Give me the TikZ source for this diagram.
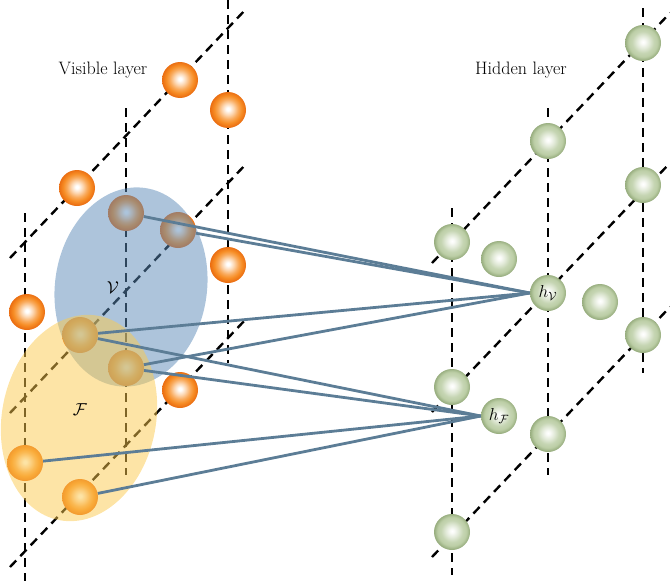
\documentclass[tikz,border=0pt]{standalone}
\usetikzlibrary{shapes.geometric}

\definecolor{orgmid}{RGB}{247,142,38}
\definecolor{orgedge}{RGB}{234,108,16}
\definecolor{grnmid}{RGB}{188,206,166}
\definecolor{grnedge}{RGB}{150,172,125}
\definecolor{vsetcol}{RGB}{91,138,184}
\definecolor{fsetcol}{RGB}{252,201,77}
\definecolor{linkcol}{RGB}{92,125,150}

\pgfdeclareradialshading{orangeball}{\pgfpoint{0bp}{1.5bp}}{color(0bp)=(white); color(2bp)=(white); color(8bp)=(orgmid!35!white); color(14bp)=(orgmid!75!white); color(19bp)=(orgmid); color(25bp)=(orgedge); color(50bp)=(orgedge)}
\pgfdeclareradialshading{greenball}{\pgfpoint{0bp}{1.5bp}}{color(0bp)=(white); color(3bp)=(grnmid!10!white); color(9bp)=(grnmid!45!white); color(15bp)=(grnmid!85!white); color(20bp)=(grnmid); color(25bp)=(grnedge); color(50bp)=(grnedge)}

\begin{document}
\begin{tikzpicture}[
  x=1pt, y=-1pt,
  grid/.style={dash pattern=on 9pt off 6pt, line width=2.4pt},
  vball/.style={circle, minimum size=36pt, inner sep=0pt, shade, shading=orangeball},
  hball/.style={circle, minimum size=36pt, inner sep=0pt, shade, shading=greenball},
  region/.style={ellipse, inner sep=0pt, fill opacity=0.5},
  link/.style={draw=linkcol, line width=2.8pt},
  font=\fontsize{18}{21}\selectfont
]
\useasboundingbox (0,0) rectangle (670,581);

% visible lattice
\draw[grid] (10,258) -- (247,8);
\draw[grid] (10,413) -- (247,163);
\draw[grid] (10,567) -- (247,318);
\draw[grid] (25,213) -- (25,581);
\draw[grid] (126,108) -- (126,475);
\draw[grid] (228,0) -- (228,363);

% hidden lattice
\draw[grid] (432,263) -- (670,13);
\draw[grid] (432,412) -- (670,163);
\draw[grid] (432,557) -- (670,307);
\draw[grid] (452,208) -- (452,575);
\draw[grid] (548,108) -- (548,475);
\draw[grid] (643,8) -- (643,373);

% visible units
\node[vball] (v1) at (180,80) {};
\node[vball] (v2) at (228,110) {};
\node[vball] (v3) at (77,188) {};
\node[vball] (v4) at (126,213) {};
\node[vball] (v5) at (178,230) {};
\node[vball] (v6) at (228,265) {};
\node[vball] (v7) at (27,312) {};
\node[vball] (v8) at (80,335) {};
\node[vball] (v9) at (126,368) {};
\node[vball] (v10) at (180,390) {};
\node[vball] (v11) at (25,463) {};
\node[vball] (v12) at (80,497) {};

% hidden units
\node[hball] (h1) at (643,43) {};
\node[hball] (h2) at (548,141) {};
\node[hball] (h3) at (643,185) {};
\node[hball] (h4) at (452,242) {};
\node[hball] (h5) at (499,259) {};
\node[hball] (hv) at (548,293) {$h_{\mathcal{V}}$};
\node[hball] (h6) at (600,302) {};
\node[hball] (h7) at (643,335) {};
\node[hball] (h8) at (452,387) {};
\node[hball] (hf) at (499,416) {$h_{\mathcal{F}}$};
\node[hball] (h9) at (548,434) {};
\node[hball] (h10) at (452,532) {};

% regions
\node[region, fill=vsetcol, minimum width=152pt, minimum height=200pt, rotate=-8] (vset) at (131,287) {};
\node[region, fill=fsetcol, minimum width=154pt, minimum height=208pt, rotate=-11] (fset) at (79,418) {};
\node (vname) at (113,288) {$\mathcal{V}$};
\node (fname) at (80,410) {$\mathcal{F}$};

% connections
\draw[link] (v4) -- (hv.west);
\draw[link] (v5) -- (hv.west);
\draw[link] (v8) -- (hv.west);
\draw[link] (v9) -- (hv.west);
\draw[link] (v8) -- (hf.west);
\draw[link] (v9) -- (hf.west);
\draw[link] (v11) -- (hf.west);
\draw[link] (v12) -- (hf.west);

\node (vislabel) at (103,70) {Visible layer};
\node (hidlabel) at (521,70) {Hidden layer};
\end{tikzpicture}
\end{document}
